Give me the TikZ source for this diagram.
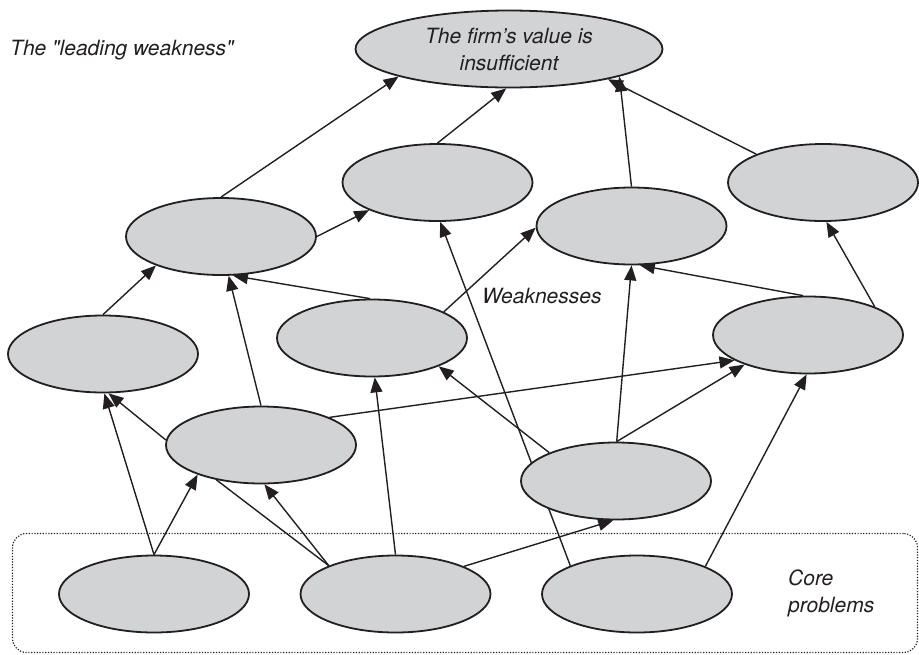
\documentclass[tikz,border=0pt]{standalone}
\usepackage{fontspec}
\newfontfamily\helv{TeX Gyre Heros}
\usetikzlibrary{shapes.geometric,arrows.meta}
\definecolor{ellfill}{RGB}{209,211,212}
\definecolor{ink}{RGB}{35,31,32}
\pgfdeclarelayer{bg}
\pgfsetlayers{bg,main}
\begin{document}
\begin{tikzpicture}[x=1pt,y=-1pt,
  ell/.style={ellipse, draw=ink, line width=1.8pt, fill=ellfill, minimum width=190pt, minimum height=77pt, inner sep=0pt},
  arr/.style={draw=ink, line width=1.4pt, -{Triangle[length=15pt,width=12pt]}},
  ln/.style={draw=ink, line width=1.4pt},
  lbl/.style={font=\helv\itshape\fontsize{21}{27}\selectfont, text=ink, inner sep=0pt}]
\useasboundingbox (0,0) rectangle (919,654);
\node[draw=ink, dash pattern=on 1.2pt off 1.6pt, line width=1.2pt, rounded corners=14pt, minimum width=905pt, minimum height=119pt, inner sep=0pt] (core) at (465,593) {};
\node[ell, minimum width=307pt, lbl, align=center] (T) at (509,49) {The firm’s value is\\insufficient};
\node[ell] (E1) at (221,236.5) {};
\node[ell] (E2) at (437.5,182.5) {};
\node[ell] (E3) at (631.5,226) {};
\node[ell] (E4) at (823,182.5) {};
\node[ell] (E5) at (103,354) {};
\node[ell] (E6) at (372,338) {};
\node[ell] (E7) at (808,335) {};
\node[ell] (E8) at (261,445) {};
\node[ell] (E9) at (616,481) {};
\node[ell] (C1) at (154,594) {};
\node[ell] (C2) at (395.5,594) {};
\node[ell] (C3) at (637,594) {};
\node[lbl, anchor=base west] (lead) at (10,55) {The "leading weakness"};
\node[lbl, anchor=base west] (weak) at (482,303) {Weaknesses};
\node[lbl, anchor=north west, align=left] (corelbl) at (788,570) {Core\\problems};
\begin{pgfonlayer}{bg}
\draw[arr] (E1.90) -- (T.194);
\draw[arr] (E2.90) -- (T.266);
\draw[arr] (E3.90) -- (T.346);
\draw[arr] (E4.157) -- (T.343);
\draw[arr] (E1.0) -- (E2.202);
\draw[arr] (E5.90) -- (E1.204);
\draw[arr] (E8.90) -- (E1.281);
\draw[arr] (E6.93) -- (E1.287);
\draw[arr] (C3.157) -- (E2.274);
\draw[arr] (E6.20) -- (E3.181);
\draw[arr] (E7.97) -- (E3.282);
\draw[arr] (E9.89) -- (E3.270);
\draw[arr] (E7.23) -- (E4.275);
\draw[arr] (E8.177) -- (E5.278);
\draw[arr] (C1.90) -- (E5.272);
\draw[arr] (C1.90) -- (E8.205);
\draw[ln] (C2.157) -- (E8.218);
\draw[arr] (C2.157) -- (E8.275);
\draw[arr] (C2.90) -- (E6.274);
\draw[arr] (C2.22) -- (E9.266);
\draw[arr] (E8.22) -- (E7.199);
\draw[arr] (E9.89) -- (E7.205);
\draw[arr] (C3.22) -- (E7.268);
\draw[arr] (E9.157) -- (E6.337);
\end{pgfonlayer}
\end{tikzpicture}
\end{document}
